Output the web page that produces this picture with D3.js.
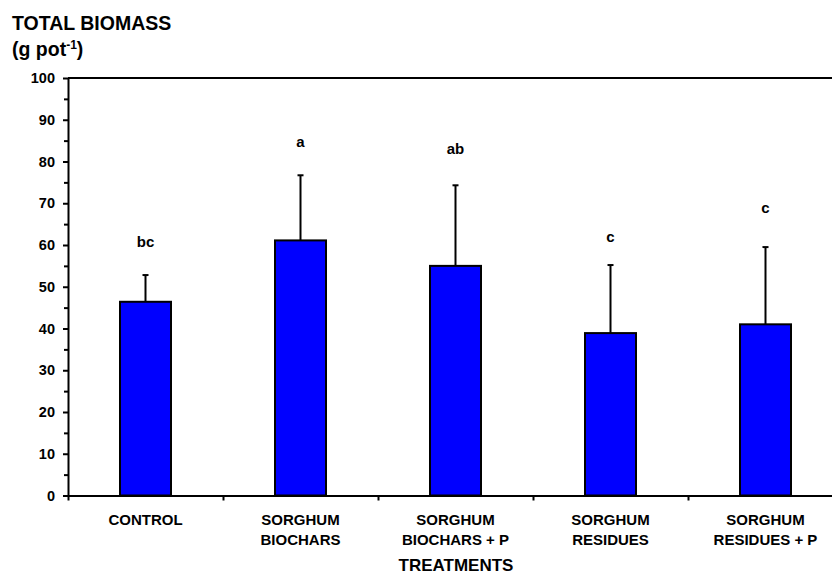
<!DOCTYPE html>
<html>
<head>
<meta charset="utf-8">
<script src="https://cdn.jsdelivr.net/npm/d3@7"></script>
<style>
  body { margin: 0; background: #fff; }
  text { font-family: "Liberation Sans", Arial, sans-serif; font-weight: bold; fill: #000; }
</style>
</head>
<body>
<script>
// data
var treatments = ["CONTROL", "SORGHUM\nBIOCHARS", "SORGHUM\nBIOCHARS + P", "SORGHUM\nRESIDUES", "SORGHUM\nRESIDUES + P"];
var biomass = [46.4, 61.1, 55.0, 38.9, 41.0];
var errorTop = [52.8, 76.7, 74.3, 55.2, 59.5];
var letters = ["bc", "a", "ab", "c", "c"];
var letterAt = [59.6, 83.5, 81.8, 60.7, 67.6];
var yTicks = [0, 10, 20, 30, 40, 50, 60, 70, 80, 90, 100];
var yMinorTicks = [5, 15, 25, 35, 45, 55, 65, 75, 85, 95];

var width = 832;
var height = 575;
var plotLeft = 68;
var plotTop = 78;
var plotBottom = 495.5;
var plotRight = 843; // plot runs past the right edge of the picture

var svg = d3.select("body").append("svg")
  .attr("width", width)
  .attr("height", height);

var xScale = d3.scaleBand()
  .domain(treatments)
  .range([plotLeft, plotRight]);

var yScale = d3.scaleLinear()
  .domain([0, 100])
  .range([plotBottom, plotTop]);

// boundaries between categories
var edgeScale = d3.scaleLinear()
  .domain([0, treatments.length])
  .range([plotLeft, plotRight]);

// top frame line
svg.append("line")
  .attr("x1", plotLeft).attr("x2", plotRight)
  .attr("y1", plotTop).attr("y2", plotTop)
  .attr("stroke", "#000")
  .attr("stroke-width", 2);

// bars
var barW = 51;
svg.append("g").selectAll("rect")
  .data(biomass)
  .enter()
    .append("rect")
    .attr("x", (d, i) => xScale(treatments[i]) + xScale.bandwidth() / 2 - barW / 2)
    .attr("y", d => yScale(d))
    .attr("width", barW)
    .attr("height", d => yScale(0) - yScale(d))
    .attr("fill", "#0000ff")
    .attr("stroke", "#000")
    .attr("stroke-width", 2);

// error bars (upper only)
var errG = svg.append("g");
biomass.forEach(function(d, i) {
  var cx = xScale(treatments[i]) + xScale.bandwidth() / 2;
  errG.append("line")
    .attr("x1", cx).attr("x2", cx)
    .attr("y1", yScale(d)).attr("y2", yScale(errorTop[i]))
    .attr("stroke", "#000")
    .attr("stroke-width", 2);
  errG.append("line")
    .attr("x1", cx - 3).attr("x2", cx + 3)
    .attr("y1", yScale(errorTop[i])).attr("y2", yScale(errorTop[i]))
    .attr("stroke", "#000")
    .attr("stroke-width", 2);
});

// significance letters
svg.append("g").selectAll("text")
  .data(letters)
  .enter()
    .append("text")
    .attr("x", (d, i) => xScale(treatments[i]) + xScale.bandwidth() / 2)
    .attr("y", (d, i) => yScale(letterAt[i]))
    .attr("text-anchor", "middle")
    .style("font-size", "15px")
    .text(d => d);

// y axis
var yAxis = d3.axisLeft(yScale)
  .tickValues(yTicks)
  .tickSize(5)
  .tickSizeOuter(0)
  .tickPadding(8);

var yAxisG = svg.append("g")
  .attr("transform", "translate(" + plotLeft + ",0)")
  .call(yAxis);
yAxisG.selectAll("text").style("font-size", "14.5px");

var yMinor = svg.append("g")
  .attr("transform", "translate(" + plotLeft + ",0)")
  .call(d3.axisLeft(yScale).tickValues(yMinorTicks).tickSize(4).tickSizeOuter(0).tickFormat(""));
yMinor.select(".domain").remove();

// x axis: boundary ticks
var xAxisG = svg.append("g")
  .attr("transform", "translate(0," + plotBottom + ")")
  .call(d3.axisBottom(edgeScale)
    .tickValues(d3.range(0, treatments.length + 1))
    .tickSize(5)
    .tickSizeOuter(0)
    .tickFormat(""));

svg.selectAll(".domain, .tick line")
  .attr("stroke", "#000")
  .attr("stroke-width", 2);

// category labels
var catG = svg.append("g");
treatments.forEach(function(name, i) {
  var t = catG.append("text")
    .attr("x", xScale(name) + xScale.bandwidth() / 2)
    .attr("y", 525)
    .attr("text-anchor", "middle")
    .style("font-size", "15px");
  name.split("\n").forEach(function(line, j) {
    t.append("tspan")
      .attr("x", xScale(name) + xScale.bandwidth() / 2)
      .attr("dy", j === 0 ? 0 : 20)
      .text(line);
  });
});

// axis titles
svg.append("text")
  .attr("x", 456)
  .attr("y", 571)
  .attr("text-anchor", "middle")
  .style("font-size", "17px")
  .text("TREATMENTS");

svg.append("text")
  .attr("x", 12)
  .attr("y", 30)
  .style("font-size", "19.5px")
  .text("TOTAL BIOMASS");

var unit = svg.append("text")
  .attr("x", 12)
  .attr("y", 56)
  .style("font-size", "19.5px");
unit.append("tspan").text("(g pot");
unit.append("tspan").attr("dy", -7).style("font-size", "12px").text("-1");
unit.append("tspan").attr("dy", 7).text(")");
</script>
</body>
</html>
